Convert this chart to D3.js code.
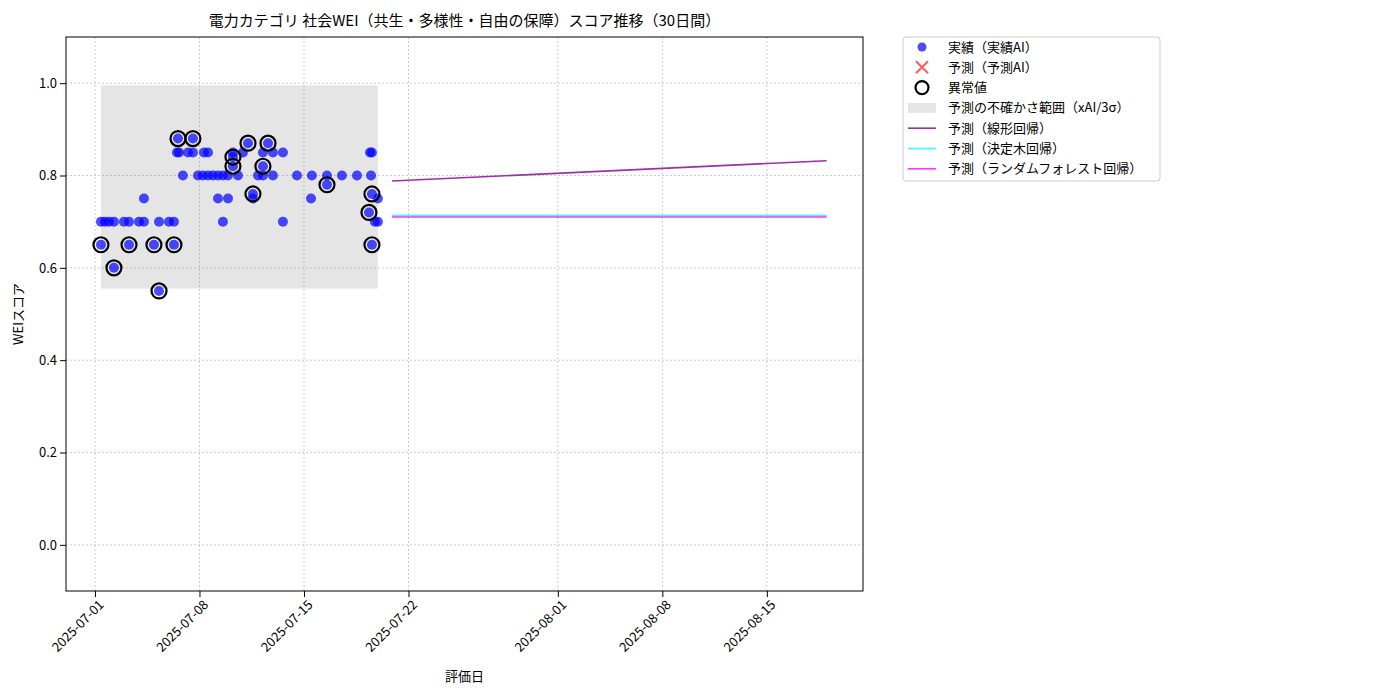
<!DOCTYPE html>
<html><head><meta charset="utf-8">
<script src="https://cdn.jsdelivr.net/npm/d3@7"></script>
<style>body{margin:0;background:#fff;font-family:"Noto Sans CJK JP","DejaVu Sans",sans-serif;}</style>
</head><body><svg id="c" width="1400" height="700"></svg>
<script>
// days after 2025-07-01 00:00 and score
var actualDays = [0.40,0.67,0.94,1.27,1.94,2.28,2.95,3.28,4.29,4.96,5.29,8.57,12.59,
  3.28,8.24,8.91,10.58,14.47,18.95,
  5.89,6.90,7.23,7.57,7.90,8.24,8.57,8.91,9.58,10.92,11.25,11.92,13.53,14.53,15.54,16.54,17.55,18.49,
  5.49,5.63,6.23,6.56,7.30,7.57,9.24,9.91,11.25,11.92,12.59,18.42,18.55,
  5.56,6.56,10.25,11.59,9.24,9.24,11.25,10.58,18.55,15.54,18.35,18.55,
  0.40,2.28,3.95,5.29,1.27,4.29,18.75,18.95];
var actualVals = [0.70,0.70,0.70,0.70,0.70,0.70,0.70,0.70,0.70,0.70,0.70,0.70,0.70,
  0.75,0.75,0.75,0.75,0.75,0.75,
  0.80,0.80,0.80,0.80,0.80,0.80,0.80,0.80,0.80,0.80,0.80,0.80,0.80,0.80,0.80,0.80,0.80,0.80,
  0.85,0.85,0.85,0.85,0.85,0.85,0.85,0.85,0.85,0.85,0.85,0.85,0.85,
  0.88,0.88,0.87,0.87,0.84,0.82,0.82,0.76,0.76,0.78,0.72,0.65,
  0.65,0.65,0.65,0.65,0.60,0.55,0.70,0.70];
var anomalyDays = [0.40,2.28,3.95,5.29,1.27,4.29,5.56,6.56,10.25,11.59,9.24,9.24,11.25,10.58,18.55,15.54,18.35,18.55];
var anomalyVals = [0.65,0.65,0.65,0.65,0.60,0.55,0.88,0.88,0.87,0.87,0.84,0.82,0.82,0.76,0.76,0.78,0.72,0.65];
var bandDays = [0.40,18.95], bandLow = 0.555, bandHigh = 0.995;
var predDays = [19.9,49.0];
var linearVals = [0.788,0.832];
var treeVals = [0.713,0.713];
var forestVals = [0.710,0.710];
var tickDates = ["2025-07-01","2025-07-08","2025-07-15","2025-07-22","2025-08-01","2025-08-08","2025-08-15"];
var yTicks = [0.0,0.2,0.4,0.6,0.8,1.0];

var base = new Date(2025,6,1);
function d(day){ return new Date(base.getTime()+day*86400000); }
var pd = d3.timeParse("%Y-%m-%d");

var svg = d3.select('#c');
var L=66,R=863,T=37,B=591;
var x = d3.scaleTime().domain([d(-1.94),d(51.44)]).range([L,R]);
var y = d3.scaleLinear().domain([-0.1,1.1]).range([B,T]);

// grid
var g = svg.append('g');
tickDates.forEach(function(t){ g.append('line').attr('x1',x(pd(t))).attr('x2',x(pd(t))).attr('y1',T).attr('y2',B).attr('stroke','#ccc').attr('stroke-dasharray','2,2'); });
yTicks.forEach(function(t){ g.append('line').attr('x1',L).attr('x2',R).attr('y1',y(t)).attr('y2',y(t)).attr('stroke','#ccc').attr('stroke-dasharray','2,2'); });

svg.append('rect').attr('x',x(d(bandDays[0]))).attr('width',x(d(bandDays[1]))-x(d(bandDays[0])))
  .attr('y',y(bandHigh)).attr('height',y(bandLow)-y(bandHigh)).attr('fill','#888').attr('opacity',0.22);

svg.selectAll('.pt').data(actualDays).enter().append('circle')
  .attr('cx',function(v){return x(d(v));}).attr('cy',function(v,i){return y(actualVals[i]);})
  .attr('r',5).attr('fill','#0000ff').attr('opacity',0.7);
svg.selectAll('.an').data(anomalyDays).enter().append('circle')
  .attr('cx',function(v){return x(d(v));}).attr('cy',function(v,i){return y(anomalyVals[i]);})
  .attr('r',7.5).attr('fill','none').attr('stroke','#000').attr('stroke-width',2.2);

var line = d3.line().x(function(v){return x(d(v));});
[[linearVals,'#9b2fa3'],[treeVals,'#33ffff'],[forestVals,'#ff33ff']].forEach(function(s){
  svg.append('path').datum(predDays).attr('d',line.y(function(v,i){return y(s[0][i]);}))
    .attr('stroke',s[1]).attr('stroke-width',1.6).attr('fill','none');
});

// axes
var xa = svg.append('g').attr('transform','translate(0,'+B+')')
  .call(d3.axisBottom(x).tickValues(tickDates.map(pd)).tickFormat(d3.timeFormat('%Y-%m-%d')).tickSizeOuter(0));
xa.selectAll('text').attr('transform','rotate(-45)').attr('text-anchor','end').attr('dx','-0.3em').attr('dy','0.6em').style('font-size','13px');
var ya = svg.append('g').attr('transform','translate('+L+',0)')
  .call(d3.axisLeft(y).tickValues(yTicks).tickFormat(d3.format('.1f')).tickSizeOuter(0));
ya.selectAll('text').style('font-size','13px');
svg.selectAll('.domain').remove();
svg.append('rect').attr('x',L).attr('y',T).attr('width',R-L).attr('height',B-T).attr('fill','none').attr('stroke','#000');
svg.selectAll('text').attr('fill','#000').style('font-family','"Noto Sans CJK JP",sans-serif');

svg.append('text').attr('x',(L+R)/2).attr('y',26).attr('text-anchor','middle').style('font-size','15px')
  .text('電力カテゴリ 社会WEI（共生・多様性・自由の保障）スコア推移（30日間）');
svg.append('text').attr('x',(L+R)/2).attr('y',681).attr('text-anchor','middle').style('font-size','13px').text('評価日');
svg.append('text').attr('transform','translate(23,'+(T+B)/2+') rotate(-90)').attr('text-anchor','middle').style('font-size','13px').text('WEIスコア');

// legend
var lg = svg.append('g').attr('transform','translate(903,37)');
lg.append('rect').attr('width',257).attr('height',144).attr('fill','#fff').attr('stroke','#ccc').attr('rx',3);
var items = ['実績（実績AI）','予測（予測AI）','異常値','予測の不確かさ範囲（xAI/3σ）','予測（線形回帰）','予測（決定木回帰）','予測（ランダムフォレスト回帰）'];
items.forEach(function(t,i){
  var yy = 10+i*20.3, cx = 19;
  if(i==0) lg.append('circle').attr('cx',cx).attr('cy',yy).attr('r',4.5).attr('fill','#0000ff').attr('opacity',0.7);
  if(i==1) lg.append('path').attr('d','M'+(cx-6)+','+(yy-6)+'L'+(cx+6)+','+(yy+6)+'M'+(cx-6)+','+(yy+6)+'L'+(cx+6)+','+(yy-6)).attr('stroke','#ff3333').attr('stroke-width',2).attr('opacity',0.8);
  if(i==2) lg.append('circle').attr('cx',cx).attr('cy',yy).attr('r',6.5).attr('fill','none').attr('stroke','#000').attr('stroke-width',2.2);
  if(i==3) lg.append('rect').attr('x',5).attr('y',yy-5).attr('width',28).attr('height',10).attr('fill','#888').attr('opacity',0.22);
  if(i>=4) lg.append('line').attr('x1',5).attr('x2',33).attr('y1',yy).attr('y2',yy).attr('stroke',['#9b2fa3','#33ffff','#ff33ff'][i-4]).attr('stroke-width',1.6);
  lg.append('text').attr('x',45).attr('y',yy+4.5).style('font-size','13px').style('font-family','"Noto Sans CJK JP",sans-serif').text(t);
});
</script></body></html>
